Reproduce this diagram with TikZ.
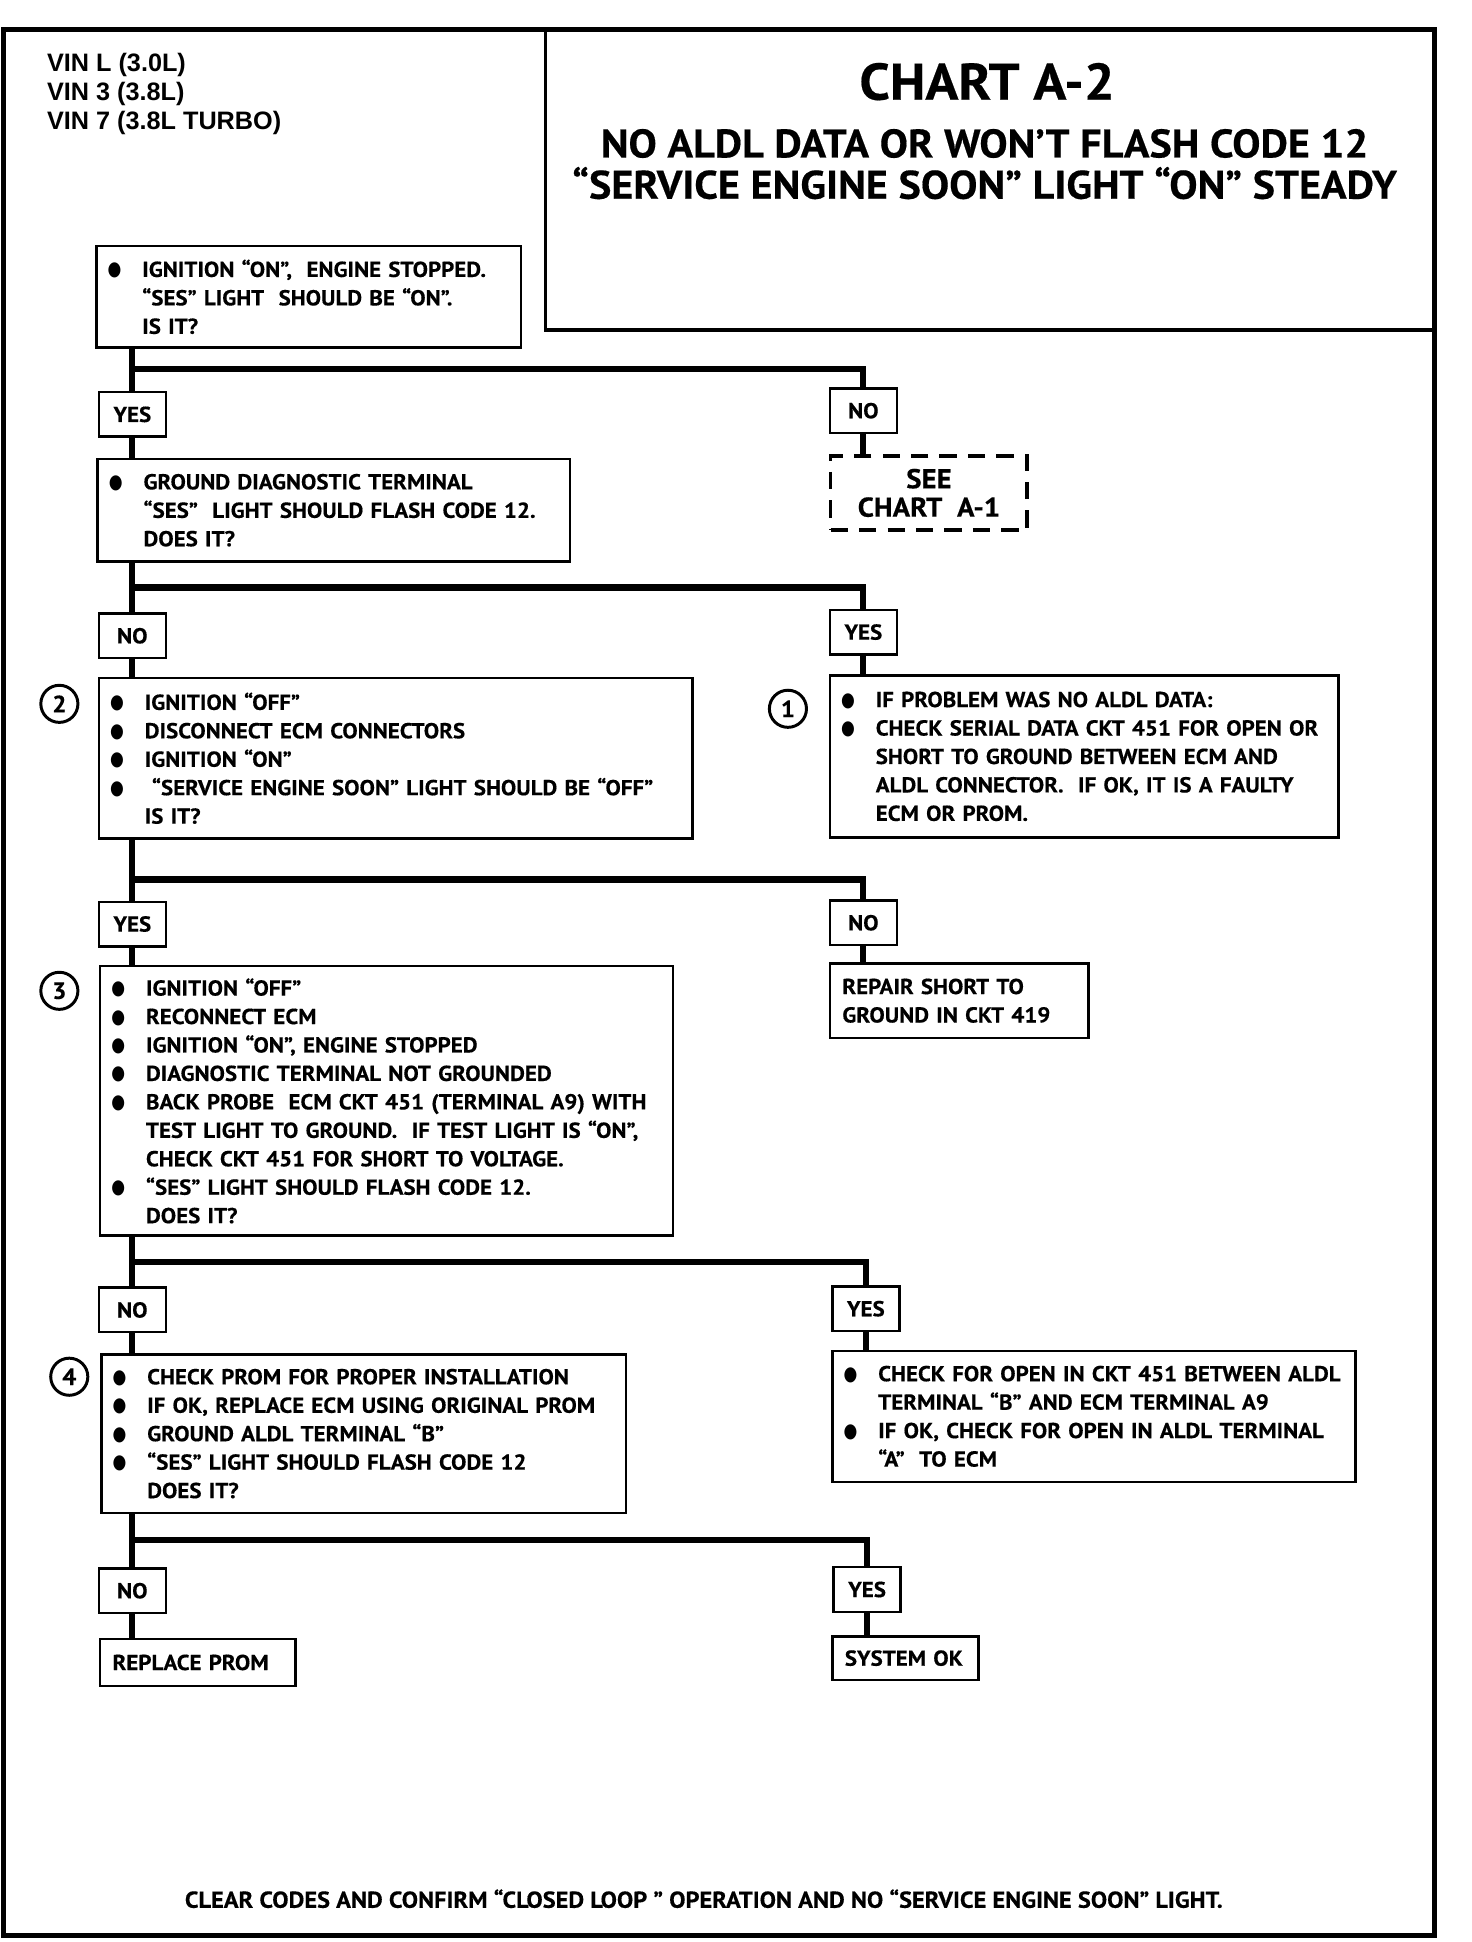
\documentclass[tikz,border=0pt]{standalone}
\usepackage{fontspec}
\setmainfont{PT Sans}[FakeStretch=1.06, BoldFeatures={FakeBold=0.4}]
\newfontfamily\vinfont{Liberation Sans}
\newfontfamily\dotfont{DejaVu Sans}[FakeStretch=0.8]
\usetikzlibrary{positioning}

\newcommand\stepfont{\bfseries\fontsize{8.75}{11.5}\selectfont}
\newcommand\bul[1]{\mbox{\makebox[14pt][l]{\raisebox{0.4pt}{\dotfont\fontsize{8}{8}\selectfont ●}}#1}}
\newcommand\ind[1]{\mbox{\hspace*{14pt}#1}}

\begin{document}
\begin{tikzpicture}[x=0.5pt, y=-0.5pt, every node/.style={font=\stepfont}]

		% Styles for the question boxes, the answer tags and the connectors
		\tikzset{
			stepbox/.style={draw, line width=1pt, anchor=north west, align=left, inner xsep=4.5pt, inner ysep=0pt, text width=#1},
			tagbox/.style={draw, line width=1pt, anchor=north west, inner sep=0pt, minimum width=27pt, minimum height=18pt},
			endbox/.style={draw, line width=1pt, anchor=north west, align=left, inner xsep=5pt, inner ysep=0pt, text width=#1},
			numcirc/.style={draw, circle, line width=1.2pt, inner sep=0pt, minimum size=15pt, font=\bfseries\fontsize{9.5}{10}\selectfont},
			flow/.style={line width=2.5pt}
		};

		\useasboundingbox (0,0) rectangle (1190,1570);

		% Frame and header
		\draw[line width=2pt] (3,24) rectangle (1160,1565);
		\draw[line width=1.5pt] (441,24) -- (441,267) -- (1160,267);
		\node[anchor=north west, align=left, font=\vinfont\bfseries\fontsize{10.2}{11.8}\selectfont] (vin) at (31,36) {VIN L (3.0L)\\VIN 3 (3.8L)\\VIN 7 (3.8L TURBO)};
		\node[font=\bfseries\fontsize{20.8}{24}\selectfont] (title) at (798,66) {CHART A-2};
		\node[font=\bfseries\fontsize{16.1}{17}\selectfont] (sub1) at (796,116) {NO ALDL DATA OR WON’T FLASH CODE 12};
		\node[font=\bfseries\fontsize{16.1}{17}\selectfont] (sub2) at (796,148) {“SERVICE ENGINE SOON” LIGHT “ON” STEADY};

		% Step 1: ignition on
		\node[stepbox=162.5pt, minimum height=41pt] (q1) at (77,198) {\bul{IGNITION “ON”, \ ENGINE STOPPED.}\\ \ind{“SES” LIGHT \ SHOULD BE “ON”.}\\ \ind{IS IT?}};
		\node[tagbox] (yes1) at (79,316) {YES};
		\node[tagbox] (no1) at (670,313) {NO};
		\node[draw, dashed, dash pattern=on 7pt off 4.5pt, line width=1.5pt, anchor=north west, align=center, inner sep=0pt, minimum width=79.5pt, minimum height=30pt, font=\bfseries\fontsize{11}{11.5}\selectfont] (a1) at (670,367) {SEE\\CHART \ A-1};

		% Step 2: ground diagnostic terminal
		\node[stepbox=182pt, minimum height=41.5pt] (q2) at (78,370) {\bul{GROUND DIAGNOSTIC TERMINAL}\\ \ind{“SES” \ LIGHT SHOULD FLASH CODE 12.}\\ \ind{DOES IT?}};
		\node[tagbox] (no2) at (79,495) {NO};
		\node[tagbox] (yes2) at (670,492) {YES};

		% Step 3: ECM disconnected
		\node[stepbox=231pt, minimum height=65pt] (q3) at (79,547) {\bul{IGNITION “OFF”}\\ \bul{DISCONNECT ECM CONNECTORS}\\ \bul{IGNITION “ON”}\\ \bul{\ “SERVICE ENGINE SOON” LIGHT SHOULD BE “OFF”}\\ \ind{IS IT?}};
		\node[numcirc] (c2) at (48,569) {2};
		\node[stepbox=196.5pt, minimum height=65.5pt] (q4) at (670,545) {\bul{IF PROBLEM WAS NO ALDL DATA:}\\ \bul{CHECK SERIAL DATA CKT 451 FOR OPEN OR}\\ \ind{SHORT TO GROUND BETWEEN ECM AND}\\ \ind{ALDL CONNECTOR. \ IF OK, IT IS A FAULTY}\\ \ind{ECM OR PROM.}};
		\node[numcirc] (c1) at (637,573) {1};
		\node[tagbox] (yes3) at (79,728) {YES};
		\node[tagbox] (no3) at (670,727) {NO};
		\node[endbox=94.5pt, minimum height=30pt] (r1) at (670,778) {\mbox{REPAIR SHORT TO}\\\mbox{GROUND IN CKT 419}};

		% Step 4: ECM reconnected, back probe
		\node[stepbox=222.5pt, minimum height=109pt] (q5) at (80,780) {\bul{IGNITION “OFF”}\\ \bul{RECONNECT ECM}\\ \bul{IGNITION “ON”, ENGINE STOPPED}\\ \bul{DIAGNOSTIC TERMINAL NOT GROUNDED}\\ \bul{BACK PROBE \ ECM CKT 451 (TERMINAL A9) WITH}\\ \ind{TEST LIGHT TO GROUND. \ IF TEST LIGHT IS “ON”,}\\ \ind{CHECK CKT 451 FOR SHORT TO VOLTAGE.}\\ \bul{“SES” LIGHT SHOULD FLASH CODE 12.}\\ \ind{DOES IT?}};
		\node[numcirc] (c3) at (48,801) {3};
		\node[tagbox] (no4) at (79,1040) {NO};
		\node[tagbox] (yes4) at (672,1039) {YES};

		% Step 5: PROM check
		\node[stepbox=203pt, minimum height=64pt] (q6) at (81,1094) {\bul{CHECK PROM FOR PROPER INSTALLATION}\\ \bul{IF OK, REPLACE ECM USING ORIGINAL PROM}\\ \bul{GROUND ALDL TERMINAL “B”}\\ \bul{“SES” LIGHT SHOULD FLASH CODE 12}\\ \ind{DOES IT?}};
		\node[numcirc] (c4) at (56,1113) {4};
		\node[stepbox=202.5pt, minimum height=53pt] (q7) at (672,1091) {\bul{CHECK FOR OPEN IN CKT 451 BETWEEN ALDL}\\ \ind{TERMINAL “B” AND ECM TERMINAL A9}\\ \bul{IF OK, CHECK FOR OPEN IN ALDL TERMINAL}\\ \ind{“A” \ TO ECM}};
		\node[tagbox] (no5) at (79,1267) {NO};
		\node[tagbox] (yes5) at (673,1266) {YES};
		\node[endbox=69pt, minimum height=19pt] (e1) at (80,1324) {\mbox{REPLACE PROM}};
		\node[endbox=49pt, minimum height=17.5pt] (e2) at (672,1322) {\mbox{SYSTEM OK}};

		% Footer
		\node[font=\bfseries\fontsize{9.3}{10}\selectfont] (foot) at (569,1535) {CLEAR CODES AND CONFIRM “CLOSED LOOP ” OPERATION AND NO “SERVICE ENGINE SOON” LIGHT.};

		% Connectors
		\coordinate (j1) at (106,298);
		\coordinate (j2) at (106,475);
		\coordinate (j3) at (106,711);
		\coordinate (j4) at (106,1020);
		\coordinate (j5) at (106,1245);
		\draw[flow] (q1.south -| yes1.north) -- (yes1.north);
		\draw[flow] (j1) -| (no1.north);
		\draw[flow] (yes1.south) -- (yes1.south |- q2.north);
		\draw[flow] (no1.south) -- (no1.south |- a1.north);
		\draw[flow] (q2.south -| no2.north) -- (no2.north);
		\draw[flow] (j2) -| (yes2.north);
		\draw[flow] (no2.south) -- (no2.south |- q3.north);
		\draw[flow] (yes2.south) -- (yes2.south |- q4.north);
		\draw[flow] (q3.south -| yes3.north) -- (yes3.north);
		\draw[flow] (j3) -| (no3.north);
		\draw[flow] (yes3.south) -- (yes3.south |- q5.north);
		\draw[flow] (no3.south) -- (no3.south |- r1.north);
		\draw[flow] (q5.south -| no4.north) -- (no4.north);
		\draw[flow] (j4) -| (yes4.north);
		\draw[flow] (no4.south) -- (no4.south |- q6.north);
		\draw[flow] (yes4.south) -- (yes4.south |- q7.north);
		\draw[flow] (q6.south -| no5.north) -- (no5.north);
		\draw[flow] (j5) -| (yes5.north);
		\draw[flow] (no5.south) -- (no5.south |- e1.north);
		\draw[flow] (yes5.south) -- (yes5.south |- e2.north);
	\end{tikzpicture}
\end{document}
